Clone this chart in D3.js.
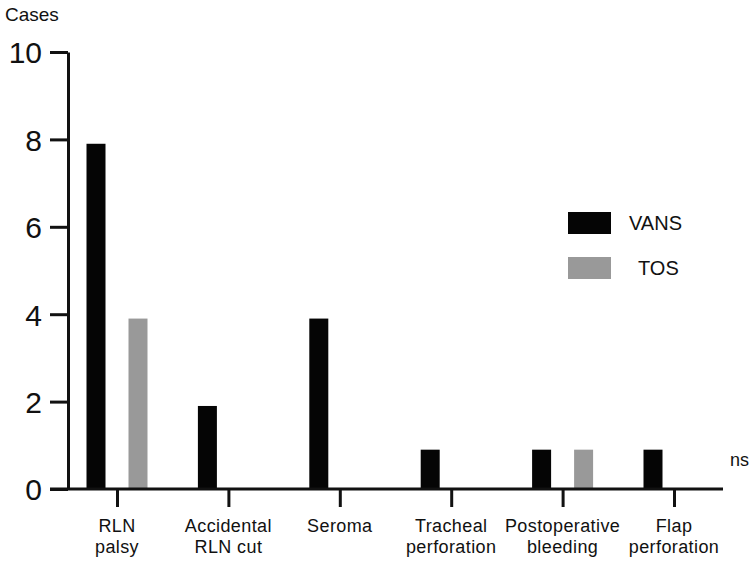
<!DOCTYPE html>
<html>
<head>
<meta charset="utf-8" />
<title>Complications</title>
<script src="https://d3js.org/d3.v7.min.js"></script>
<style>
  body { margin: 0; padding: 0; background: #fff; }
  svg text { font-family: "Liberation Sans", Arial, sans-serif; fill: #111; }
</style>
</head>
<body>
<div id="chart"></div>
<script>

const categories = [
  ['RLN', 'palsy'],
  ['Accidental', 'RLN cut'],
  ['Seroma'],
  ['Tracheal', 'perforation'],
  ['Postoperative', 'bleeding'],
  ['Flap', 'perforation']
]
const vans = [7.9, 1.9, 3.9, 0.9, 0.9, 0.9]
const tos = [3.9, 0, 0, 0, 0.9, 0]
const yTicks = [0, 2, 4, 6, 8, 10]
const seriesNames = ['VANS', 'TOS']
const seriesColors = ['#050505', '#999999']

const width = 754, height = 564

const svg = d3.select('#chart')
  .append('svg')
  .attr('width', width)
  .attr('height', height)

const keys = categories.map(c => c.join(' '))

const x = d3.scalePoint()
  .domain(keys)
  .range([117, 674])

const y = d3.scaleLinear()
  .domain([0, 10])
  .range([489, 52])

// bars
const barW = 19, off = 21
svg.selectAll('rect.vans')
  .data(vans)
  .enter()
  .append('rect')
    .attr('x', (d, i) => x(keys[i]) - off - barW / 2)
    .attr('y', d => y(d))
    .attr('width', barW)
    .attr('height', d => y(0) - y(d))
    .attr('fill', seriesColors[0])

svg.selectAll('rect.tos')
  .data(tos)
  .enter()
  .append('rect')
    .attr('x', (d, i) => x(keys[i]) + off - barW / 2)
    .attr('y', d => y(d))
    .attr('width', barW)
    .attr('height', d => y(0) - y(d))
    .attr('fill', seriesColors[1])

// y axis
const yAxis = svg.append('g')
  .attr('transform', 'translate(68,0)')
  .call(d3.axisLeft(y).tickValues(yTicks).tickSize(18).tickSizeOuter(0).tickPadding(8))
yAxis.select('.domain').attr('stroke', '#111').attr('stroke-width', 3)
yAxis.selectAll('.tick line').attr('stroke', '#111').attr('stroke-width', 3)
yAxis.selectAll('.tick text')
  .style('font-size', '30px')
  .attr('fill', '#111')
  .attr('dy', '0.36em')

// x axis
const xAxis = svg.append('g')
  .attr('transform', 'translate(0,489)')
  .call(d3.axisBottom(x).tickSize(18).tickSizeOuter(0).tickFormat(''))
xAxis.select('.domain').attr('d', 'M50,0H723').attr('stroke', '#111').attr('stroke-width', 3)
xAxis.selectAll('.tick line').attr('stroke', '#111').attr('stroke-width', 3)

// category labels
categories.forEach((lines, i) => {
  const t = svg.append('text')
    .attr('text-anchor', 'middle')
    .attr('x', x(keys[i]))
    .attr('y', 532)
    .style('font-size', '18px')
    .style('letter-spacing', '0.4px')
  lines.forEach((s, j) => {
    t.append('tspan')
      .attr('x', x(keys[i]))
      .attr('dy', j === 0 ? 0 : 21)
      .text(s)
  })
})

// axis title
svg.append('text')
  .attr('x', 5)
  .attr('y', 21)
  .style('font-size', '19px')
  .text('Cases')

// legend
seriesNames.forEach((name, i) => {
  const ly = 212 + i * 45
  svg.append('rect')
    .attr('x', 568)
    .attr('y', ly)
    .attr('width', 43)
    .attr('height', 22)
    .attr('fill', seriesColors[i])
  svg.append('text')
    .attr('x', i === 0 ? 629 : 638)
    .attr('y', ly + 18)
    .style('font-size', '20px')
    .text(name)
})

// significance note
svg.append('text')
  .attr('x', 730)
  .attr('y', 466)
  .style('font-size', '18px')
  .text('ns')

</script>
</body>
</html>
